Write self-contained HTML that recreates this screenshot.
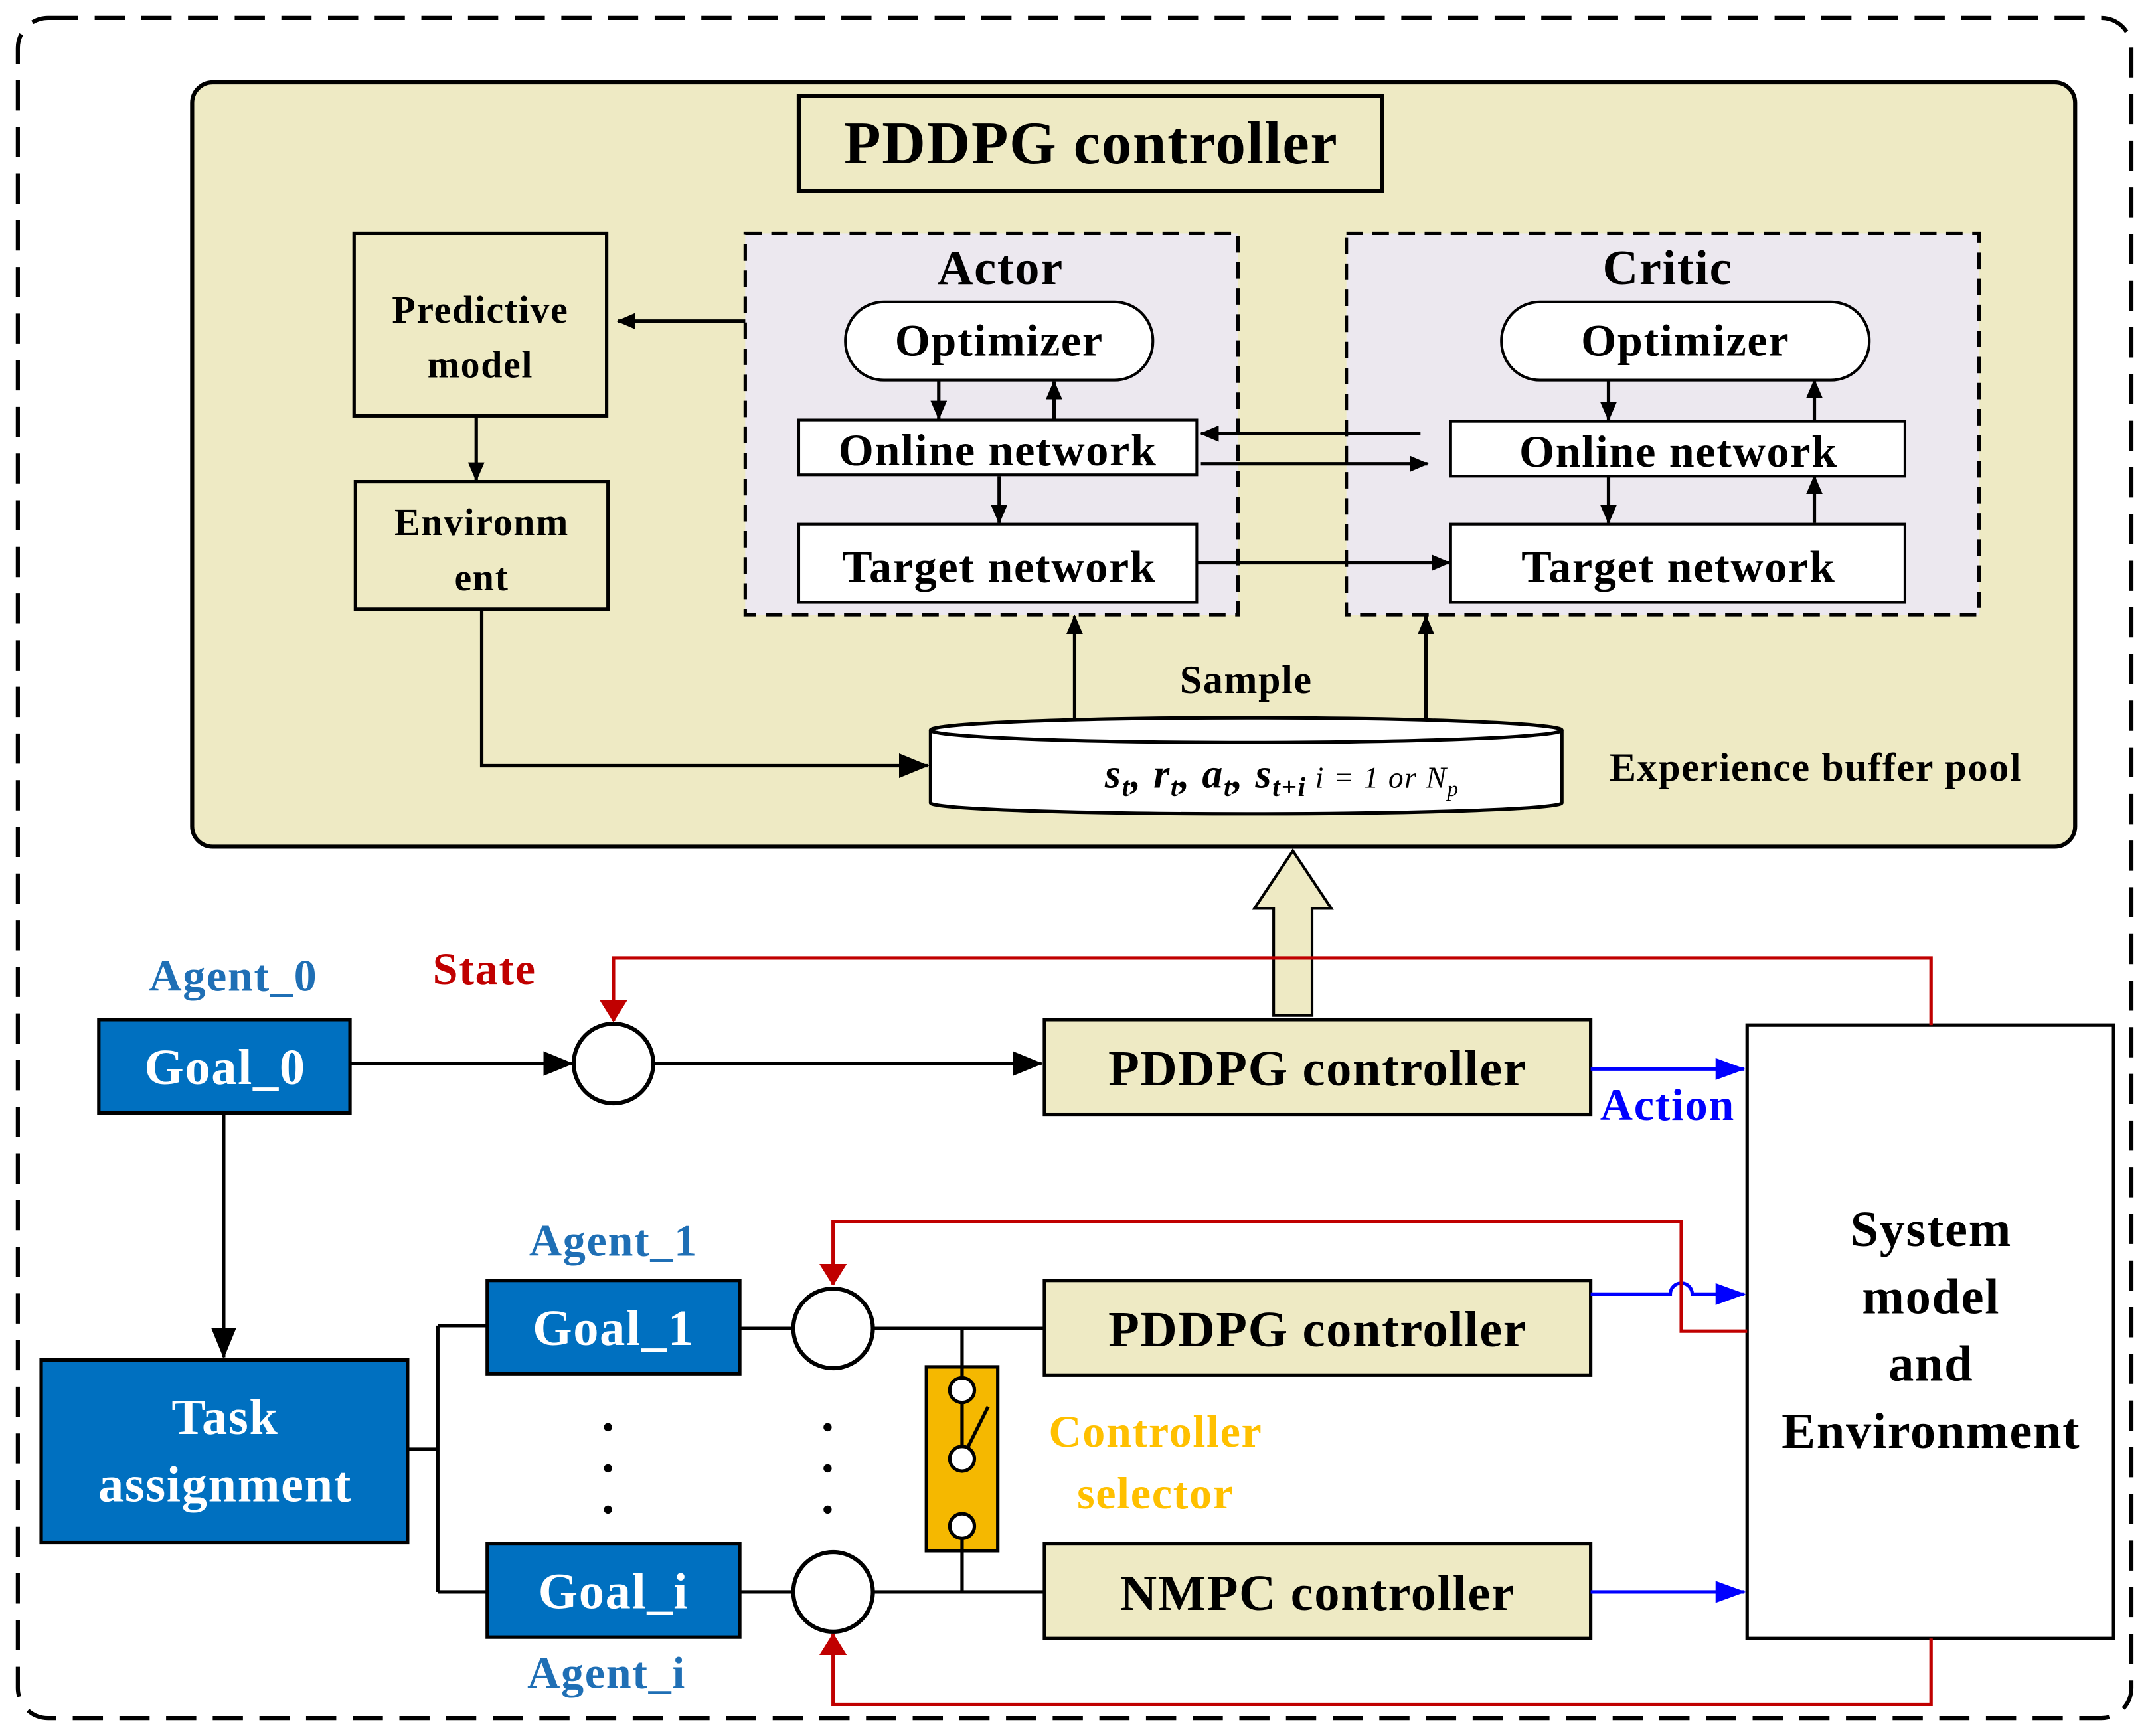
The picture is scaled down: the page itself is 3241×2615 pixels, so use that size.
<!DOCTYPE html>
<html><head><meta charset="utf-8"><style>html,body{margin:0;padding:0;background:#fff}svg{display:block}text{font-family:"Liberation Serif",serif;font-weight:bold;letter-spacing:0.8px}</style></head>
<body>
<svg width="3241" height="2615" viewBox="0 0 1568 1265" preserveAspectRatio="none" xmlns="http://www.w3.org/2000/svg">
<defs>
<marker id="ak" markerWidth="8" markerHeight="8" refX="7" refY="4" orient="auto" markerUnits="userSpaceOnUse"><path d="M0,0 L8,4 L0,8 z" fill="#000"/></marker>
<marker id="akb" markerWidth="22" markerHeight="18" refX="21" refY="9" orient="auto" markerUnits="userSpaceOnUse"><path d="M0,0 L22,9 L0,18 z" fill="#000"/></marker>
<marker id="ab" markerWidth="22" markerHeight="16" refX="21" refY="8" orient="auto" markerUnits="userSpaceOnUse"><path d="M0,0 L22,8 L0,16 z" fill="#0000ff"/></marker>
<marker id="ar" markerWidth="16" markerHeight="20" refX="15" refY="10" orient="auto" markerUnits="userSpaceOnUse"><path d="M0,0 L16,10 L0,20 z" fill="#c00000"/></marker>
<marker id="am" markerWidth="14" markerHeight="12" refX="13" refY="6" orient="auto" markerUnits="userSpaceOnUse"><path d="M0,0 L14,6 L0,12 z" fill="#000"/></marker>
</defs>
<rect x="13" y="13" width="1540" height="1239" rx="22" fill="#fff" stroke="#000" stroke-width="3" stroke-dasharray="22,12"/>
<rect x="140" y="60" width="1372" height="557" rx="15" fill="#eeeac4" stroke="#000" stroke-width="3"/>
<rect x="582" y="70" width="425" height="69" fill="#eeeac4" stroke="#000" stroke-width="3"/>
<text x="795" y="119" font-size="44" text-anchor="middle">PDDPG controller</text>
<rect x="258" y="170" width="184" height="133" fill="#eeeac4" stroke="#000" stroke-width="2.5"/>
<text x="350" y="235" font-size="28" text-anchor="middle">Predictive</text>
<text x="350" y="275" font-size="28" text-anchor="middle">model</text>
<rect x="259" y="351" width="184" height="93" fill="#eeeac4" stroke="#000" stroke-width="2.5"/>
<text x="351" y="390" font-size="28" text-anchor="middle">Environm</text>
<text x="351" y="430" font-size="28" text-anchor="middle">ent</text>
<rect x="543" y="170" width="359" height="278" fill="#ece8ef" stroke="#000" stroke-width="2.5" stroke-dasharray="12,7"/>
<text x="729" y="207" font-size="36" text-anchor="middle">Actor</text>
<rect x="616" y="220" width="224" height="57" rx="28" fill="#fff" stroke="#000" stroke-width="2"/>
<text x="728" y="259" font-size="33" text-anchor="middle">Optimizer</text>
<rect x="582" y="306" width="290" height="40" fill="#fff" stroke="#000" stroke-width="2"/>
<text x="727" y="339" font-size="33" text-anchor="middle">Online network</text>
<rect x="582" y="382" width="290" height="57" fill="#fff" stroke="#000" stroke-width="2"/>
<text x="728" y="424" font-size="33" text-anchor="middle">Target network</text>
<rect x="981" y="170" width="461" height="278" fill="#ece8ef" stroke="#000" stroke-width="2.5" stroke-dasharray="12,7"/>
<text x="1215" y="207" font-size="36" text-anchor="middle">Critic</text>
<rect x="1094" y="220" width="268" height="57" rx="28" fill="#fff" stroke="#000" stroke-width="2"/>
<text x="1228" y="259" font-size="33" text-anchor="middle">Optimizer</text>
<rect x="1057" y="307" width="331" height="40" fill="#fff" stroke="#000" stroke-width="2"/>
<text x="1223" y="340" font-size="33" text-anchor="middle">Online network</text>
<rect x="1057" y="382" width="331" height="57" fill="#fff" stroke="#000" stroke-width="2"/>
<text x="1223" y="424" font-size="33" text-anchor="middle">Target network</text>
<g stroke="#000" stroke-width="2.5" fill="none" marker-end="url(#am)">
<path d="M543,234 H450"/>
<path d="M347,303 V350"/>
<path d="M684,277 V305"/><path d="M768,305 V278"/><path d="M728,347 V381"/>
<path d="M1172,277 V306"/><path d="M1322,306 V277"/><path d="M1172,347 V381"/><path d="M1322,381 V347"/>
<path d="M1035,316 H875"/><path d="M875,338 H1040"/><path d="M872,410 H1056"/>
<path d="M783,525 V449"/><path d="M1039,525 V449"/>
</g>
<path d="M351,445 V558 H676" stroke="#000" stroke-width="2.5" fill="none" marker-end="url(#akb)"/>
<path d="M678,532 V585 A230,8 0 0 0 1138,585 V532" fill="#fff" stroke="#000" stroke-width="2.5"/>
<ellipse cx="908" cy="532" rx="230" ry="9" fill="#fff" stroke="#000" stroke-width="2.5"/>
<text x="805" y="574" font-size="30" font-style="italic">s<tspan font-size="20" dy="6">t</tspan><tspan dy="-6">, r</tspan><tspan font-size="20" dy="6">t</tspan><tspan dy="-6">, a</tspan><tspan font-size="20" dy="6">t</tspan><tspan dy="-6">, s</tspan><tspan font-size="20" dy="6">t+i</tspan><tspan font-size="22" dy="-6" font-weight="normal">  i = 1 or N</tspan><tspan font-size="16" dy="6" font-weight="normal">p</tspan></text>
<text x="908" y="505" font-size="29" text-anchor="middle">Sample</text>
<text x="1323" y="569" font-size="29" text-anchor="middle">Experience buffer pool</text>
<path d="M928,740 V662 H914 L942,620 L970,662 H956 V740 z" fill="#eeeac4" stroke="#000" stroke-width="2"/>
<text x="170" y="722" font-size="33" text-anchor="middle" fill="#1f6fb5">Agent_0</text>
<rect x="72" y="743" width="183" height="68" fill="#0070c0" stroke="#000" stroke-width="2.5"/>
<text x="164" y="790" font-size="37" text-anchor="middle" fill="#fff">Goal_0</text>
<text x="353" y="717" font-size="33" text-anchor="middle" fill="#c00000">State</text>
<circle cx="447" cy="775" r="29" fill="#fff" stroke="#000" stroke-width="3"/>
<g stroke="#000" stroke-width="2.5" fill="none" marker-end="url(#akb)">
<path d="M255,775 H417"/><path d="M476,775 H759"/><path d="M163,812 V989"/>
</g>
<rect x="761" y="743" width="398" height="69" fill="#eeeac4" stroke="#000" stroke-width="2.5"/>
<text x="960" y="791" font-size="37" text-anchor="middle">PDDPG controller</text>
<rect x="1273" y="747" width="267" height="447" fill="#fff" stroke="#000" stroke-width="2.5"/>
<text x="1407" y="908" font-size="37" text-anchor="middle">System</text>
<text x="1407" y="957" font-size="37" text-anchor="middle">model</text>
<text x="1407" y="1006" font-size="37" text-anchor="middle">and</text>
<text x="1407" y="1055" font-size="37" text-anchor="middle">Environment</text>
<path d="M1159,779 H1271" stroke="#0000ff" stroke-width="2.5" marker-end="url(#ab)"/>
<text x="1215" y="816" font-size="33" text-anchor="middle" fill="#0000ff">Action</text>
<path d="M1407,747 V698 H447 V744" stroke="#c00000" stroke-width="2.5" fill="none" marker-end="url(#ar)"/>
<rect x="30" y="991" width="267" height="133" fill="#0070c0" stroke="#000" stroke-width="2.5"/>
<text x="164" y="1045" font-size="37" text-anchor="middle" fill="#fff">Task</text>
<text x="164" y="1094" font-size="37" text-anchor="middle" fill="#fff">assignment</text>
<path d="M297,1056 H319 M319,966 V1160 M319,966 H355 M319,1160 H355" stroke="#000" stroke-width="2.5" fill="none"/>
<text x="447" y="915" font-size="33" text-anchor="middle" fill="#1f6fb5">Agent_1</text>
<rect x="355" y="933" width="184" height="68" fill="#0070c0" stroke="#000" stroke-width="2.5"/>
<text x="447" y="980" font-size="37" text-anchor="middle" fill="#fff">Goal_1</text>
<rect x="355" y="1125" width="184" height="68" fill="#0070c0" stroke="#000" stroke-width="2.5"/>
<text x="447" y="1172" font-size="37" text-anchor="middle" fill="#fff">Goal_i</text>
<text x="442" y="1230" font-size="33" text-anchor="middle" fill="#1f6fb5">Agent_i</text>
<g fill="#000"><circle cx="443" cy="1040" r="3"/><circle cx="443" cy="1070" r="3"/><circle cx="443" cy="1100" r="3"/><circle cx="603" cy="1040" r="3"/><circle cx="603" cy="1070" r="3"/><circle cx="603" cy="1100" r="3"/></g>
<path d="M539,968 H578 M539,1160 H578 M636,968 H761 M636,1160 H761 M701,968 V996 M701,1130 V1160" stroke="#000" stroke-width="2.5"/>
<circle cx="607" cy="968" r="29" fill="#fff" stroke="#000" stroke-width="3"/>
<circle cx="607" cy="1160" r="29" fill="#fff" stroke="#000" stroke-width="3"/>
<rect x="761" y="933" width="398" height="69" fill="#eeeac4" stroke="#000" stroke-width="2.5"/>
<text x="960" y="981" font-size="37" text-anchor="middle">PDDPG controller</text>
<rect x="761" y="1125" width="398" height="69" fill="#eeeac4" stroke="#000" stroke-width="2.5"/>
<text x="960" y="1173" font-size="37" text-anchor="middle">NMPC controller</text>
<rect x="675" y="996" width="52" height="134" fill="#f5b800" stroke="#000" stroke-width="2.5"/>
<path d="M701,1013 V1063 M701,1063 L720,1025 M701,1112 V1130 M701,996 V1013" stroke="#000" stroke-width="2.5"/>
<circle cx="701" cy="1013" r="9" fill="#fff" stroke="#000" stroke-width="2.5"/>
<circle cx="701" cy="1063" r="9" fill="#fff" stroke="#000" stroke-width="2.5"/>
<circle cx="701" cy="1112" r="9" fill="#fff" stroke="#000" stroke-width="2.5"/>
<text x="842" y="1054" font-size="33" text-anchor="middle" fill="#ffc000">Controller</text>
<text x="842" y="1099" font-size="33" text-anchor="middle" fill="#ffc000">selector</text>
<path d="M1159,943 H1217 A8,8 0 0 1 1233,943 H1271" stroke="#0000ff" stroke-width="2.5" fill="none" marker-end="url(#ab)"/>
<path d="M1273,970 H1225 V890 H607 V936" stroke="#c00000" stroke-width="2.5" fill="none" marker-end="url(#ar)"/>
<path d="M1159,1160 H1271" stroke="#0000ff" stroke-width="2.5" marker-end="url(#ab)"/>
<path d="M1407,1194 V1242 H607 V1191" stroke="#c00000" stroke-width="2.5" fill="none" marker-end="url(#ar)"/>
</svg>
</body></html>
